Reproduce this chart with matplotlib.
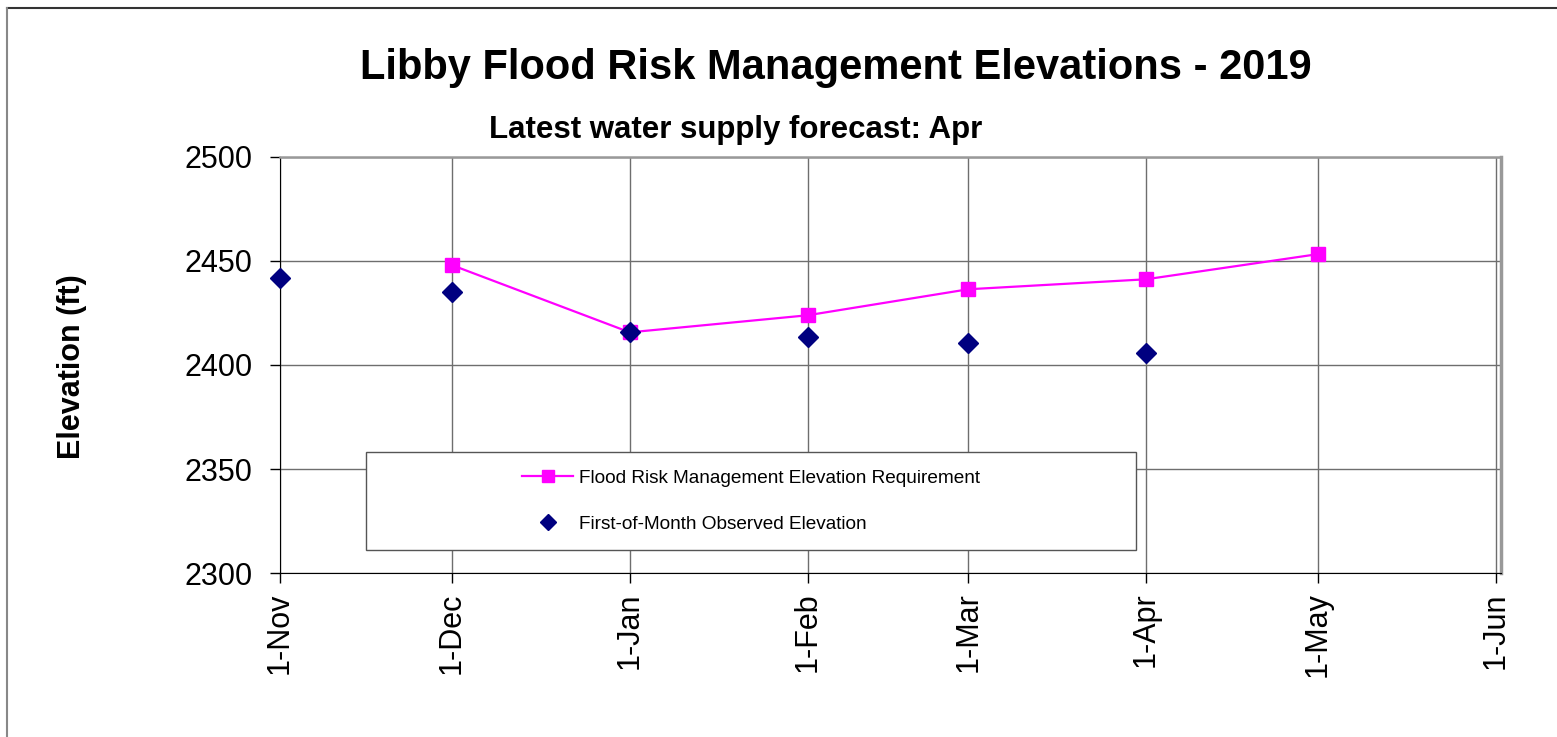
import datetime as dt
import matplotlib
matplotlib.use('Agg')
import matplotlib.pyplot as plt
import matplotlib.dates as mdates
from matplotlib.lines import Line2D
from matplotlib.patches import Rectangle

plt.rcParams['font.family'] = ['Liberation Sans', 'DejaVu Sans']

# data
frm_dates = [dt.date(2018, 12, 1), dt.date(2019, 1, 1), dt.date(2019, 2, 1),
             dt.date(2019, 3, 1), dt.date(2019, 4, 1), dt.date(2019, 5, 1)]
frm_elev = [2448.0, 2415.7, 2423.9, 2436.4, 2441.2, 2453.3]

obs_dates = [dt.date(2018, 11, 1), dt.date(2018, 12, 1), dt.date(2019, 1, 1),
             dt.date(2019, 2, 1), dt.date(2019, 3, 1), dt.date(2019, 4, 1)]
obs_elev = [2441.7, 2435.0, 2416.1, 2413.3, 2410.8, 2406.0]

tick_dates = [dt.date(2018, 11, 1), dt.date(2018, 12, 1), dt.date(2019, 1, 1),
              dt.date(2019, 2, 1), dt.date(2019, 3, 1), dt.date(2019, 4, 1),
              dt.date(2019, 5, 1), dt.date(2019, 6, 1)]
y_ticks = [2300, 2350, 2400, 2450, 2500]

fig = plt.figure(figsize=(15.57, 7.37), dpi=100)
ax = fig.add_axes([0.1798, 0.2225, 0.7842, 0.5645])

ax.plot(frm_dates, frm_elev, color='#FF00FF', linewidth=1.6, marker='s',
        markersize=10, markeredgecolor='#FF00FF', zorder=3, clip_on=False,
        label='Flood Risk Management Elevation Requirement')
ax.plot(obs_dates, obs_elev, linestyle='none', color='#000080', marker='D',
        markersize=10, zorder=4, clip_on=False,
        label='First-of-Month Observed Elevation')

ax.set_xlim(mdates.date2num(dt.date(2018, 11, 1)),
            mdates.date2num(dt.date(2019, 6, 1)) + 0.9)
ax.set_ylim(2300, 2500)
ax.set_xticks([mdates.date2num(d) for d in tick_dates])
ax.set_xticklabels([f"{d.day}-{d.strftime('%b')}" for d in tick_dates],
                   rotation=90, fontsize=22)
ax.set_yticks(y_ticks)
ax.set_yticklabels([str(v) for v in y_ticks], fontsize=22)
ax.tick_params(axis='y', direction='out', length=7, width=1, pad=13)
ax.tick_params(axis='x', direction='out', length=7, width=1, pad=7)

ax.grid(True, color='#6e6e6e', linewidth=1)
ax.set_axisbelow(True)
ax.spines['left'].set_color('black')
ax.spines['bottom'].set_color('black')
ax.spines['top'].set_color('#999999')
ax.spines['top'].set_linewidth(1.8)
ax.spines['right'].set_color('#999999')
ax.spines['right'].set_linewidth(2.5)

# legend box
box = Rectangle((0.0704, 0.0553), 0.6306, 0.2357, transform=ax.transAxes,
                facecolor='white', edgecolor='#555555', linewidth=1, zorder=5)
ax.add_patch(box)
leg = ax.legend(loc='center', bbox_to_anchor=(0.3857, 0.1731), frameon=False,
                fontsize=13.7, labelspacing=1.5, handlelength=2.7,
                handletextpad=0.3, markerscale=0.85)
leg.set_zorder(6)

fig.text(0.5366, 0.908, 'Libby Flood Risk Management Elevations - 2019',
         ha='center', va='center', fontsize=30, fontweight='bold')
fig.text(0.4727, 0.824, 'Latest water supply forecast: Apr',
         ha='center', va='center', fontsize=22.5, fontweight='bold')
fig.text(0.046, 0.502, 'Elevation (ft)', rotation=90, ha='center',
         va='center', fontsize=22, fontweight='bold')

# outer chart frame
fig.add_artist(Line2D([0.0045, 1.0], [0.989, 0.989], color='#333333',
                      linewidth=1.5, transform=fig.transFigure))
fig.add_artist(Line2D([0.0045, 0.0045], [0.0, 0.989], color='#888888',
                      linewidth=1.5, transform=fig.transFigure))

fig.savefig('out.png', dpi=100)
